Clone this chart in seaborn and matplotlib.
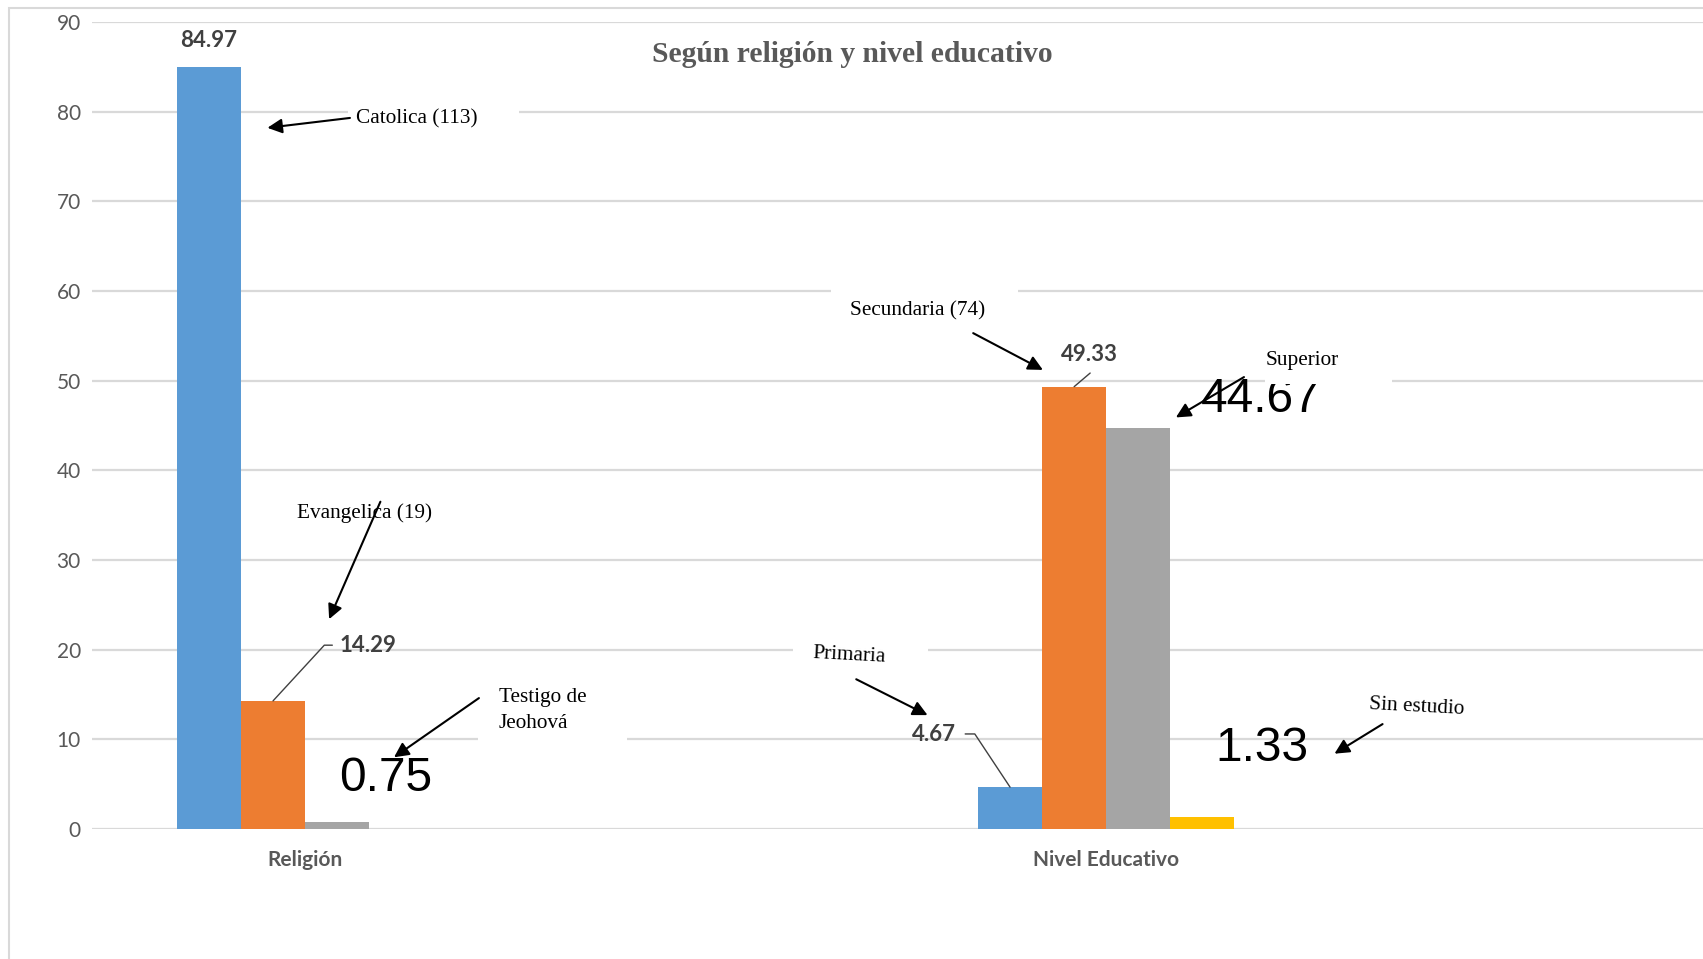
import numpy as np
import pandas as pd
import seaborn as sb
import matplotlib.pyplot as plt
from matplotlib.patches import Rectangle

# datos del grafico
grupos = ['Religión', 'Religión', 'Religión',
          'Nivel Educativo', 'Nivel Educativo', 'Nivel Educativo', 'Nivel Educativo']
categorias = ['Catolica', 'Evangelica', 'Testigo de Jeohová',
              'Primaria', 'Secundaria', 'Superior', 'Sin estudio']
posicion = ['1', '2', '3', '1', '2', '3', '4']
valores = [84.97, 14.29, 0.75, 4.67, 49.33, 44.67, 1.33]

colores = ['#5B9BD5', '#ED7D31', '#A5A5A5', '#FFC000']
titulo = 'Según religión y nivel educativo'

df = pd.DataFrame({'grupo': grupos, 'categoria': categorias,
                   'pos': posicion, 'valor': valores})

sb.set_style('white')
plt.rcParams['font.family'] = ['Lato', 'DejaVu Sans']

W, H = 1703, 959
fig = plt.figure(figsize=(W / 100, H / 100), dpi=100)
ax = fig.add_axes([92 / W, 1 - 829 / H, 1611 / W, 807 / H])

sb.barplot(data=df, x='grupo', y='valor', hue='pos', hue_order=['1', '2', '3', '4'],
           palette=colores, width=0.32, gap=0, saturation=1, legend=False,
           linewidth=0, ax=ax, zorder=3)

ax.set_ylim(0, 90)
ax.set_xlim(-0.266, 1.745)
ax.set_yticks(range(0, 91, 10))
ax.yaxis.grid(True, color='#D9D9D9', lw=1.6, zorder=0)
ax.set_axisbelow(True)
for s in ax.spines.values():
    s.set_visible(False)
ax.tick_params(axis='both', length=0, colors='#595959', labelsize=15)
ax.tick_params(axis='y', pad=8)
ax.tick_params(axis='x', pad=15)
for t in ax.get_xticklabels():
    t.set_fontweight('bold')
ax.set_xlabel('')
ax.set_ylabel('')

# marco exterior
fig.add_artist(Rectangle((9 / W, -0.1), 1.2, 1 - 8 / H + 0.1, transform=fig.transFigure,
                         fill=False, edgecolor='#D9D9D9', lw=1.5))

# titulo
fig.text(852 / W, 1 - 55 / H, titulo, ha='center', va='center', fontsize=21.3,
         fontweight='bold', color='#595959', family='Liberation Serif')

# posiciones de las barras (centro, altura)
barras = {}
for p in ax.patches:
    if p.get_height() > 0:
        barras[round(p.get_height(), 2)] = p.get_x() + p.get_width() / 2

# etiquetas de datos: desplazamiento (dx, dy) respecto a la barra, estilo
etiquetas = {
    84.97: (0.0, 3.0, 'small'),
    14.29: (0.119, 6.2, 'small'),
    0.75: (0.06, 4.9, 'big'),
    4.67: (-0.095, 5.9, 'small'),
    49.33: (0.019, 3.6, 'small'),
    44.67: (0.153, 3.2, 'big'),
    1.33: (0.075, 7.7, 'big'),
}
for v, (dx, dy, estilo) in etiquetas.items():
    x = barras[v]
    if estilo == 'small':
        ax.text(x + dx, v + dy, f'{v:.2f}', ha='center', va='center', fontsize=16,
                fontweight='bold', color='#404040', zorder=6)
    else:
        ax.text(x + dx, v + dy, f'{v:.2f}', ha='center', va='center', fontsize=34.5,
                color='black', family='Liberation Sans', zorder=4)

# lineas guia de etiquetas
ax.plot([0.034, 0.024, barras[14.29]], [20.5, 20.5, 14.29], color='#404040', lw=1, zorder=6)
ax.plot([0.980, barras[49.33]], [50.85, 49.33], color='#404040', lw=1, zorder=6)
ax.plot([0.824, 0.836, barras[4.67]], [10.6, 10.6, 4.67], color='#404040', lw=1, zorder=6)

# cajas blancas detras de los textos (cortan la cuadricula)
cajas = [(0.054, 0.267, 77, 82.5), (0.657, 0.890, 56, 61.5), (1.198, 1.357, 49.6, 55),
         (0.609, 0.777, 17.5, 22), (0.216, 0.402, 9, 15)]
for x0, x1, y0, y1 in cajas:
    ax.add_patch(Rectangle((x0, y0), x1 - x0, y1 - y0, facecolor='white',
                           edgecolor='none', zorder=5))

# textos con flechas
notas = [
    ('Catolica (113)', 0.064, 79.2, (0.056, 79.3), (-0.047, 78.2), 0),
    ('Evangelica (19)', -0.010, 35.2, (0.094, 36.5), (0.030, 23.4), 0),
    ('Testigo de\nJeohová', 0.242, 13.2, (0.217, 14.6), (0.111, 8.0), 0),
    ('Secundaria (74)', 0.680, 57.8, (0.834, 55.3), (0.921, 51.2), 0),
    ('Superior', 1.199, 52.3, (1.172, 50.4), (1.087, 45.9), 0),
    ('Primaria', 0.633, 19.4, (0.688, 16.7), (0.777, 12.7), -3),
    ('Sin estudio', 1.328, 13.6, (1.345, 11.7), (1.285, 8.4), -3),
]
for texto, tx, ty, cola, punta, rot in notas:
    ax.text(tx, ty, texto, ha='left', va='center', fontsize=15.3, color='black',
            family='Liberation Serif', rotation=rot, linespacing=1.55, zorder=6)
    ax.annotate('', xy=punta, xytext=cola,
                arrowprops=dict(arrowstyle='-|>', color='black', lw=1.5,
                                mutation_scale=22, shrinkA=0, shrinkB=0), zorder=7)

plt.savefig('out.png', dpi=100)
